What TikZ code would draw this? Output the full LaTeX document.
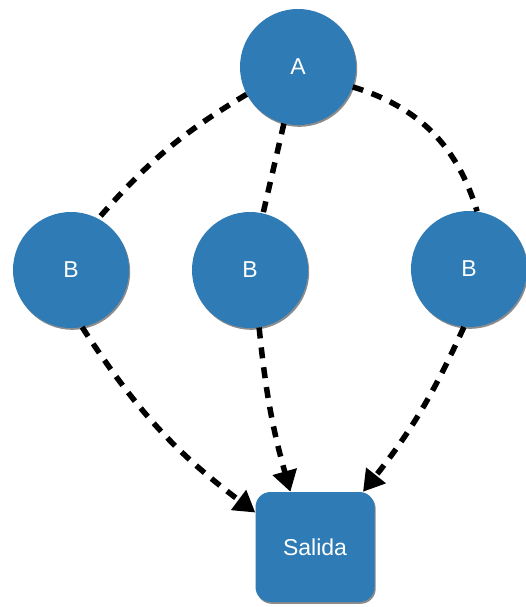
\documentclass[tikz,border=0pt]{standalone}
\usepackage{fontspec}
\setmainfont{Liberation Sans}
\usetikzlibrary{arrows.meta,shadows}
\definecolor{nodeblue}{RGB}{46,123,181}
\tikzset{
  circ/.style={circle, fill=nodeblue, minimum size=116pt, inner sep=0pt, text=white,
    font=\fontsize{23}{28}\selectfont,
    drop shadow={shadow xshift=1.2pt, shadow yshift=-1.8pt, opacity=0.45, fill=black}},
  outbox/.style={rectangle, rounded corners=15pt, fill=nodeblue, minimum width=119pt, minimum height=110pt,
    inner sep=0pt, text=white, font=\fontsize{23}{28}\selectfont,
    drop shadow={shadow xshift=1.2pt, shadow yshift=-1.8pt, opacity=0.45, fill=black}},
  link/.style={line width=5.5pt, dash pattern=on 11pt off 9pt, black},
  arrowlink/.style={link, -{Triangle[length=21pt,width=24pt]}}
}
\begin{document}
\begin{tikzpicture}[x=1pt,y=-1pt]
\useasboundingbox (0,0) rectangle (525,607);
\node[circ] (A) at (298,67) {A};
\node[circ] (B1) at (71,270) {B};
\node[circ] (B2) at (250,270) {B};
\node[circ] (B3) at (469,269) {B};
\node[outbox] (S) at (315,547) {Salida};
\draw[link] (A.208) to[bend right=9] (B1.62);
\draw[link] (A.256) -- (B2.77);
\draw[link] (A.340) to[bend left=28] (B3.82);
\draw[arrowlink] (B1.281) to[bend right=10] (S.150);
\draw[arrowlink] (B2.279) to[bend right=5] (S.114);
\draw[arrowlink] (B3.265) to[bend left=7] (S.49);
\end{tikzpicture}
\end{document}
